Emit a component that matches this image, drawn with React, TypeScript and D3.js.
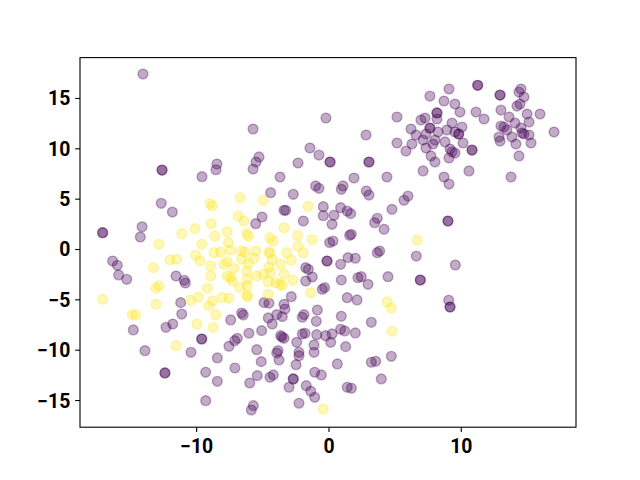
import React from "react";
import * as d3 from "d3";

// class 0 (dark purple) points, [x, y]
const purplePoints: [number, number][] = [
  [-14.06, 17.43], [-12.62, 7.89], [-12.62, 7.89], [-9.6, 7.23],
  [-5.74, 11.97], [-0.23, 13.06], [-5.29, 9.19], [-5.52, 8.69], [-5.74, 7.99], [-8.47, 8.49], [-8.54, 7.92],
  [-2.34, 8.59], [-1.44, 10.08], [-0.76, 9.38], [0.08, 8.69], [0.08, 8.69], [-3.7, 7.2],
  [7.63, 15.24], [8.69, 14.75], [9.07, 15.94], [5.14, 13.16], [8.16, 13.56], [8.16, 13.56], [8.16, 12.96],
  [6.95, 12.86], [7.26, 13.06], [2.8, 11.37], [6.2, 11.97], [7.63, 12.07], [7.63, 12.07], [6.58, 11.37],
  [7.33, 11.47], [8.24, 11.67], [8.92, 11.87], [5.14, 10.58], [6.27, 10.48], [5.82, 9.78], [7.11, 10.87],
  [8.01, 10.87], [7.86, 10.48], [7.33, 10.08], [8.77, 10.68], [9.15, 9.98], [7.71, 9.29], [8.01, 8.69],
  [9.07, 9.09], [3.02, 8.69], [3.02, 8.69], [7.11, 7.8], [1.89, 7.1], [4.38, 7.2], [8.69, 7.2],
  [11.24, 16.31], [11.24, 16.31], [9.52, 14.45], [9.9, 13.65], [9.3, 12.56], [10.05, 12.16], [11.11, 13.65],
  [11.72, 12.96], [9.8, 11.47], [9.8, 11.47], [9.52, 11.67], [10.13, 10.58], [9.3, 9.71], [9.52, 9.58],
  [10.81, 9.88], [10.81, 9.88], [10.58, 7.8], [12.93, 15.34], [12.93, 15.34], [14.36, 15.64], [14.51, 15.94],
  [14.74, 15.14], [14.21, 14.25], [14.44, 14.45], [13.0, 13.85], [13.61, 13.16], [14.97, 13.46], [15.95, 13.46],
  [15.12, 12.66], [14.06, 12.56], [13.0, 12.26], [13.23, 12.16], [13.45, 11.87], [14.51, 12.07], [14.59, 11.57],
  [14.74, 11.47], [15.12, 11.37], [13.83, 11.17], [12.85, 11.17], [12.93, 10.77], [14.13, 10.48], [15.27, 10.58],
  [17.01, 11.67], [14.36, 9.29], [13.76, 7.2],
  [-12.68, 4.59], [-11.84, 3.72], [-14.13, 2.26], [-14.26, 1.24], [-17.11, 1.67], [-17.11, 1.67], [-16.35, -1.14],
  [-16.0, -1.57], [-15.9, -2.53], [-15.29, -2.96], [-11.56, -2.63], [-10.94, -3.06], [-10.86, -3.33], [-11.21, -5.28],
  [-4.41, 5.64], [-2.7, 5.48], [-1.01, 6.31], [-0.76, 6.08], [-0.43, 4.25], [-3.4, 3.89], [-3.27, 3.89],
  [-5.06, 3.23], [-5.54, 2.56], [-1.94, 2.83], [-0.43, 3.36], [-1.76, -1.81], [-1.56, -1.97], [-0.15, -1.14],
  [-0.15, -1.14], [-1.26, -2.73], [-1.76, -3.13], [-2.85, -4.69], [-0.51, -3.95], [-0.33, -3.79], [-4.91, -5.28],
  [-4.54, -5.34], [-3.4, -5.44],
  [1.06, 6.31], [0.93, 5.98], [2.82, 5.81], [3.02, 5.41], [5.97, 5.31], [5.67, 4.89], [4.76, 3.99], [0.88, 4.15],
  [1.38, 3.82], [1.64, 3.56], [0.38, 3.4], [3.65, 3.1], [3.45, 2.66], [4.16, 2.01], [0.23, 2.5], [1.69, 1.51],
  [1.56, 1.41], [0.3, 0.84], [0.05, 0.68], [8.99, 2.83], [8.99, 2.83], [3.83, -0.15], [3.65, -0.32], [6.6, -0.65],
  [1.44, -0.81], [1.99, -0.87], [0.88, -1.47], [9.55, -1.54], [0.93, -3.03], [2.19, -2.8], [2.44, -2.7],
  [2.95, -3.46], [4.46, -2.7], [6.9, -3.03], [6.9, -3.03], [1.38, -4.79], [2.12, -5.01], [9.05, -5.04], [9.07, 6.5],
  [-14.79, -7.99], [-13.91, -10.05], [-12.32, -7.73], [-11.81, -7.4], [-11.13, -6.41], [-10.43, -10.21],
  [-9.62, -8.89], [-9.62, -8.89], [-12.4, -12.26], [-12.4, -12.26], [-9.32, -12.19], [-9.32, -15.02],
  [-7.43, -7.0], [-6.6, -6.31], [-6.48, -6.5], [-3.33, -5.91], [-4.59, -6.8], [-4.29, -7.4], [-3.95, -6.47],
  [-3.53, -6.67], [-2.02, -6.73], [-1.89, -6.47], [-0.88, -6.01], [-0.96, -7.13], [-6.05, -8.32], [-5.09, -8.06],
  [-6.93, -8.82], [-7.13, -9.06], [-7.56, -9.61], [-3.65, -8.56], [-3.4, -8.82], [-3.55, -8.69], [-2.02, -8.39],
  [-1.81, -8.32], [-2.44, -9.22], [-0.93, -8.46], [-1.13, -9.48], [-0.25, -8.56], [-5.46, -9.95], [-3.85, -10.05],
  [-3.95, -10.28], [-2.27, -10.21], [-2.27, -10.55], [-1.13, -10.21], [-8.44, -10.77], [-5.12, -11.14],
  [-3.78, -10.97], [-2.49, -11.44], [-7.11, -11.77], [-8.44, -13.09], [-5.42, -12.53], [-4.46, -12.69],
  [-4.21, -12.46], [-2.7, -12.86], [-2.7, -12.86], [-5.99, -13.26], [-3.02, -13.68], [-1.08, -12.19],
  [-0.58, -12.46], [-1.72, -13.53], [-1.38, -14.08], [-1.08, -14.68], [-5.72, -15.51], [-5.87, -15.94],
  [-2.27, -15.27],
  [9.15, -5.71], [9.15, -5.71], [0.93, -6.63], [3.2, -7.23], [0.23, -8.39], [0.13, -9.22], [0.88, -7.92],
  [1.19, -8.09], [1.99, -8.29], [1.26, -9.65], [0.63, -11.37], [3.2, -11.2], [3.53, -11.1], [4.71, -10.61],
  [3.95, -12.86], [1.38, -13.68], [1.69, -13.78],
];

// class 1 (yellow) points, [x, y]
const yellowPoints: [number, number][] = [
  [-11.13, 1.57], [-10.13, 2.07], [-12.85, 0.52], [-9.62, 0.52], [-10.08, -0.55], [-9.75, -1.14], [-12.02, -1.04],
  [-11.51, -0.97], [-13.28, -1.81], [-13.1, -3.85], [-12.85, -3.62], [-17.11, -4.95], [-13.08, -5.44],
  [-10.45, -5.04], [-9.88, -4.72],
  [-6.73, 5.14], [-4.97, 4.89], [-9.0, 4.55], [-8.82, 4.32], [-1.59, 4.29], [-6.86, 3.33], [-6.42, 2.83],
  [-8.9, 2.56], [-3.4, 2.16], [-7.69, 1.77], [-8.62, 1.34], [-6.22, 1.57], [-6.1, 1.34], [-4.46, 1.17],
  [-4.23, 0.84], [-2.37, 1.41], [-1.26, 0.97], [-7.61, 0.68], [-2.34, 0.35], [-7.43, -0.05], [-8.69, -0.32],
  [-8.19, -0.25], [-6.6, -0.15], [-6.35, -0.25], [-5.54, -0.15], [-4.54, -0.25], [-4.46, -0.38], [-3.2, -0.32],
  [-1.94, -0.32], [-7.69, -1.21], [-6.6, -0.97], [-5.67, -0.87], [-4.29, -1.04], [-2.85, -1.07], [-8.94, -1.64],
  [-7.94, -1.47], [-6.1, -1.41], [-3.65, -1.47], [-7.18, -1.87], [-4.54, -1.74], [-6.22, -2.14], [-4.41, -2.3],
  [-3.4, -2.46], [-8.94, -2.63], [-7.69, -2.63], [-7.43, -2.8], [-5.46, -2.63], [-4.97, -2.46], [-6.18, -2.96],
  [-2.72, -3.06], [-7.31, -3.13], [-4.59, -3.2], [-3.7, -3.46], [-3.53, -3.56], [-4.03, -3.3], [-6.73, -3.79],
  [-6.18, -3.62], [-9.2, -3.85], [-1.38, -4.29], [-6.18, -4.62], [-6.18, -4.62], [-8.07, -4.79], [-7.56, -4.85],
  [-8.82, -5.11], [-4.59, -4.45],
  [-9.07, -5.61], [-8.56, -6.5], [-8.75, -7.73], [-9.98, -7.4], [-11.56, -9.55], [-14.87, -6.47], [-14.61, -6.5],
  [6.67, 0.94], [4.41, -5.21], [4.71, -5.81], [4.78, -8.12], [-0.43, -15.84],
];

const xTicks = [-10, 0, 10];
const yTicks = [-15, -10, -5, 0, 5, 10, 15];

const App = () => {
  const width = 640;
  const height = 480;
  const margin = { top: 57.6, right: 64, bottom: 52.8, left: 80 };

  const x = d3.scaleLinear()
    .domain([-18.82, 18.67])
    .range([margin.left, width - margin.right]);
  const y = d3.scaleLinear()
    .domain([-17.65, 19.06])
    .range([height - margin.bottom, margin.top]);

  const font = "Roboto, 'DejaVu Sans', sans-serif";
  const tickLen = 4.86;

  const dot = (d: [number, number], i: number, color: string) => (
    <circle key={color + i} cx={x(d[0])} cy={y(d[1])} r={4.9}
      fill={color} fillOpacity={0.33}
      stroke={color} strokeOpacity={0.33} strokeWidth={1.4} />
  );

  return (
    <div style={{ position: "absolute", left: 0, top: 0 }}>
      <svg width={width} height={height} style={{ display: "block", background: "#fff" }}>
        <g>
          {purplePoints.map((d, i) => dot(d, i, "#440154"))}
          {yellowPoints.map((d, i) => dot(d, i, "#fde725"))}
        </g>
        <rect x={margin.left} y={margin.top}
          width={width - margin.left - margin.right}
          height={height - margin.top - margin.bottom}
          fill="none" stroke="#000" strokeWidth={1.1} />
        {xTicks.map(t => (
          <g key={"x" + t}>
            <line x1={x(t)} x2={x(t)} y1={height - margin.bottom} y2={height - margin.bottom + tickLen}
              stroke="#000" strokeWidth={1.1} />
            <text x={x(t)} y={453} textAnchor="middle" fontFamily={font}
              fontWeight="bold" fontSize={19.4} fill="#000">
              {t < 0 ? "\u2212" + Math.abs(t) : t}
            </text>
          </g>
        ))}
        {yTicks.map(t => (
          <g key={"y" + t}>
            <line x1={margin.left - tickLen} x2={margin.left} y1={y(t)} y2={y(t)}
              stroke="#000" strokeWidth={1.1} />
            <text x={margin.left - tickLen - 4.86} y={y(t)} dy="0.36em" textAnchor="end"
              fontFamily={font} fontWeight="bold" fontSize={19.4} fill="#000">
              {t < 0 ? "\u2212" + Math.abs(t) : t}
            </text>
          </g>
        ))}
      </svg>
    </div>
  );
};

export default App;
